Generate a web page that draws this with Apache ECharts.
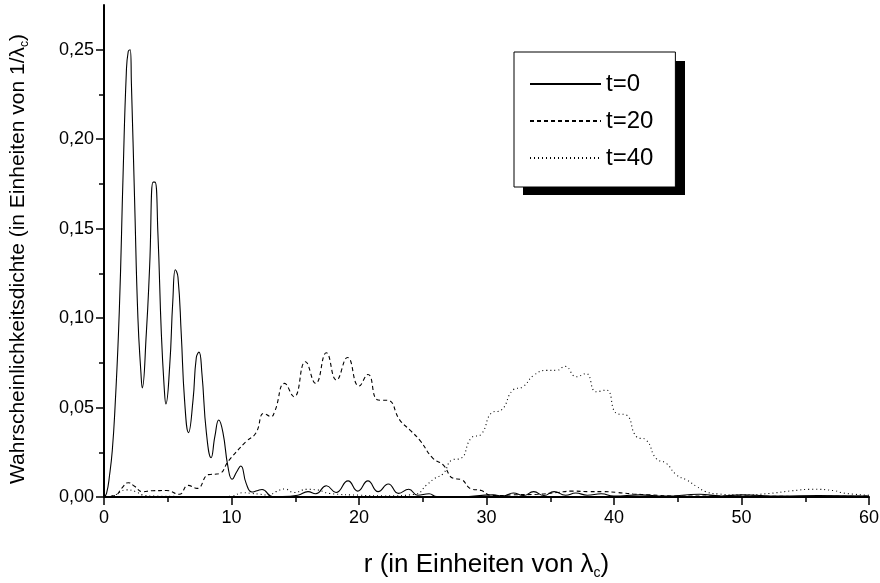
<!DOCTYPE html>
<html>
<head>
<meta charset="utf-8">
<script src="https://cdn.jsdelivr.net/npm/echarts@6/dist/echarts.min.js"></script>
<style>
    html, body { margin: 0; padding: 0; background: #fff; }
    #chart1 { width: 880px; height: 583px; }
</style>
</head>
<body>
<div id="chart1"></div>
<script>
// t=0
var r0 = [0, 0.2, 0.45, 0.65, 0.85, 1.2, 1.5, 1.75, 1.9, 2.05, 2.15, 2.4, 2.66, 2.9, 3.0, 3.32, 3.58, 3.85, 4.0, 4.23, 4.5, 4.75, 4.85, 5.15, 5.4, 5.6, 5.8, 6.06, 6.32, 6.63, 6.98, 7.24, 7.45, 7.68, 8.03, 8.4, 8.7, 9.0, 9.33, 9.72, 10.05, 10.4, 10.73, 11.15, 11.6, 12.0, 12.4, 13.2, 14.0, 15.2, 16.0, 16.6, 17.44, 18.2, 19.14, 19.9, 20.7, 21.5, 22.3, 23.1, 23.9, 24.6, 25.5, 26.1, 28.0, 30.5, 31.3, 32.1, 32.9, 33.7, 34.5, 35.3, 36.2, 37.0, 37.9, 39.0, 40.0, 42.0, 44.0, 46.7, 48.4, 50.0, 53.0, 56.0, 60.0];
var p0 = [0, 0.002, 0.013, 0.026, 0.048, 0.104, 0.181, 0.237, 0.249, 0.25, 0.231, 0.166, 0.1, 0.069, 0.061, 0.0916, 0.129, 0.176, 0.176, 0.147, 0.091, 0.058, 0.052, 0.073, 0.11, 0.127, 0.123, 0.091, 0.054, 0.036, 0.054, 0.078, 0.081, 0.069, 0.036, 0.022, 0.034, 0.043, 0.036, 0.017, 0.0099, 0.014, 0.0173, 0.0076, 0.0028, 0.0035, 0.0042, 0.0003, 0.0003, 0.001, 0.003, 0.0018, 0.0063, 0.0025, 0.009, 0.0033, 0.009, 0.003, 0.0073, 0.002, 0.0043, 0.001, 0.0018, 0.0002, 0.0002, 0.0012, 0.0005, 0.0022, 0.0008, 0.003, 0.0008, 0.003, 0.001, 0.0022, 0.001, 0.0018, 0.0005, 0.0012, 0.0005, 0.0015, 0.0006, 0.0012, 0.0005, 0.0008, 0.0005];

// t=20
var r20 = [0, 0.9, 1.4, 1.9, 2.4, 3.0, 3.8, 4.9, 5.9, 6.6, 7.3, 8.2, 9.0, 9.8, 11.15, 11.9, 12.55, 13.1, 13.4, 14.17, 14.9, 15.8, 16.6, 17.44, 18.23, 19.1, 20.0, 20.7, 21.5, 22.27, 23.2, 24.0, 24.76, 25.8, 26.6, 27.4, 28.0, 28.8, 29.6, 30.3, 31.0, 32.0, 34.0, 35.5, 36.8, 38.0, 39.1, 40.3, 41.5, 42.8, 45.0, 50.0, 55.0, 60.0];
var p20 = [0, 0.001, 0.005, 0.008, 0.006, 0.003, 0.0035, 0.0036, 0.0015, 0.0065, 0.0048, 0.0125, 0.013, 0.0205, 0.031, 0.0356, 0.0467, 0.045, 0.048, 0.0635, 0.056, 0.0756, 0.0635, 0.0806, 0.0654, 0.078, 0.062, 0.0685, 0.0542, 0.054, 0.043, 0.0374, 0.0318, 0.0216, 0.0179, 0.0104, 0.0098, 0.0045, 0.0036, 0.001, 0.0008, 0.0012, 0.0015, 0.0025, 0.0033, 0.003, 0.003, 0.0025, 0.0017, 0.0012, 0.0005, 0.0005, 0.0003, 0.0005];

// t=40
var r40 = [0, 0.8, 1.75, 2.5, 3.0, 4.0, 6.0, 9.0, 10.0, 10.9, 11.6, 12.3, 12.9, 13.5, 14.17, 14.9, 15.9, 16.7, 17.7, 20.1, 22.0, 24.4, 25.3, 25.94, 26.6, 27.3, 28.0, 28.8, 29.6, 30.4, 31.17, 32.08, 32.86, 33.7, 34.75, 35.5, 36.15, 37.05, 37.8, 38.6, 39.4, 40.2, 40.97, 41.76, 42.54, 43.3, 44.1, 44.9, 45.7, 46.5, 47.2, 48.15, 50.0, 52.2, 54.0, 55.6, 57.3, 58.0, 60.0];
var p40 = [0, 0.001, 0.004, 0.003, 0.0012, 0.0005, 0.0003, 0.0002, 0.0005, 0.0024, 0.002, 0.0015, 0.001, 0.003, 0.0045, 0.0025, 0.0043, 0.004, 0.002, 0.001, 0.0006, 0.0015, 0.0067, 0.0104, 0.013, 0.0207, 0.0216, 0.033, 0.0352, 0.047, 0.0486, 0.0598, 0.0616, 0.068, 0.0708, 0.0708, 0.073, 0.0672, 0.069, 0.0588, 0.0598, 0.0467, 0.0458, 0.0337, 0.0318, 0.0216, 0.0188, 0.0123, 0.0095, 0.0058, 0.003, 0.0017, 0.0012, 0.002, 0.0035, 0.0043, 0.0035, 0.0022, 0.001];

var xTicks = [0, 10, 20, 30, 40, 50, 60];
var yTicks = [0, 0.05, 0.1, 0.15, 0.2, 0.25];
var yMinorTicks = [0.025, 0.075, 0.125, 0.175, 0.225];

function pairs(xs, ys) {
    var out = [];
    for (var i = 0; i < xs.length; i++) out.push([xs[i], ys[i]]);
    return out;
}

var font = 'Liberation Sans, Arial, sans-serif';
var chart1 = echarts.init(document.getElementById('chart1'));
var option1 = {
    animation: false,
    textStyle: { fontFamily: font, color: '#000' },
    grid: { left: 104, right: 11, top: 5, bottom: 86, containLabel: false, outerBoundsMode: 'none' },
    // legend drop shadow (solid black box behind the legend)
    graphic: [{
        type: 'rect',
        z: 1,
        shape: { x: 523, y: 61, width: 162, height: 134 },
        style: { fill: '#000' }
    }],
    legend: {
        orient: 'vertical',
        left: 514,
        top: 52,
        z: 5,
        padding: [20, 22, 17, 15],
        itemWidth: 71,
        itemHeight: 14,
        itemGap: 13,
        backgroundColor: '#fff',
        borderColor: '#000',
        borderWidth: 1,
        borderRadius: 0,
        itemStyle: { opacity: 0 },
        textStyle: { fontFamily: font, fontSize: 24, color: '#000', lineHeight: 24 },
        data: ['t=0', 't=20', 't=40']
    },
    xAxis: {
        type: 'value',
        min: 0,
        max: 60,
        interval: 10,
        name: 'r (in Einheiten von λ{sub|c})',
        nameLocation: 'middle',
        nameGap: 53,
        nameTextStyle: {
            fontFamily: font, fontSize: 26, color: '#000',
            rich: { sub: { fontFamily: font, fontSize: 14, color: '#000', padding: [16, 0, 0, 0] } }
        },
        axisLine: { onZero: false, lineStyle: { color: '#000', width: 2 } },
        axisTick: { customValues: xTicks, length: 8, lineStyle: { color: '#000', width: 1.5 } },
        minorTick: { show: true, splitNumber: 2, length: 5, lineStyle: { color: '#000', width: 1.5 } },
        axisLabel: { customValues: xTicks, fontFamily: font, fontSize: 18, color: '#000', margin: 12 },
        splitLine: { show: false }
    },
    yAxis: [{
        type: 'value',
        min: 0,
        max: 0.275,
        name: 'Wahrscheinlichkeitsdichte (in Einheiten von 1/λ{sub|c})',
        nameLocation: 'middle',
        nameGap: 73,
        nameTextStyle: {
            fontFamily: font, fontSize: 21, color: '#000',
            padding: [0, 16, 0, 0],
            rich: { sub: { fontFamily: font, fontSize: 12, color: '#000', padding: [14, 0, 0, 0] } }
        },
        axisLine: { onZero: false, lineStyle: { color: '#000', width: 2 } },
        axisTick: { customValues: yTicks, length: 8, lineStyle: { color: '#000', width: 1.5 } },
        axisLabel: {
            customValues: yTicks, fontFamily: font, fontSize: 18, color: '#000', margin: 10,
            formatter: function (v) { return v.toFixed(2).replace('.', ','); }
        },
        splitLine: { show: false }
    }, {
        type: 'value',
        position: 'left',
        min: 0,
        max: 0.275,
        axisLine: { show: false },
        axisTick: { customValues: yMinorTicks, length: 5, lineStyle: { color: '#000', width: 1.5 } },
        axisLabel: { show: false },
        splitLine: { show: false }
    }],
    series: [
        {
            name: 't=0', type: 'line', smooth: 0.5, symbol: 'none',
            data: pairs(r0, p0),
            itemStyle: { color: '#000' },
            lineStyle: { color: '#000', width: 1.1, type: 'solid' }
        },
        {
            name: 't=20', type: 'line', smooth: 0.5, symbol: 'none',
            data: pairs(r20, p20),
            itemStyle: { color: '#000' },
            lineStyle: { color: '#000', width: 1.1, type: [4, 3] }
        },
        {
            name: 't=40', type: 'line', smooth: 0.5, symbol: 'none',
            data: pairs(r40, p40),
            itemStyle: { color: '#000' },
            lineStyle: { color: '#000', width: 1.1, type: [1, 3] }
        }
    ]
};
chart1.setOption(option1);

window.onresize = function () {
    chart1.resize();
};
</script>
</body>
</html>
